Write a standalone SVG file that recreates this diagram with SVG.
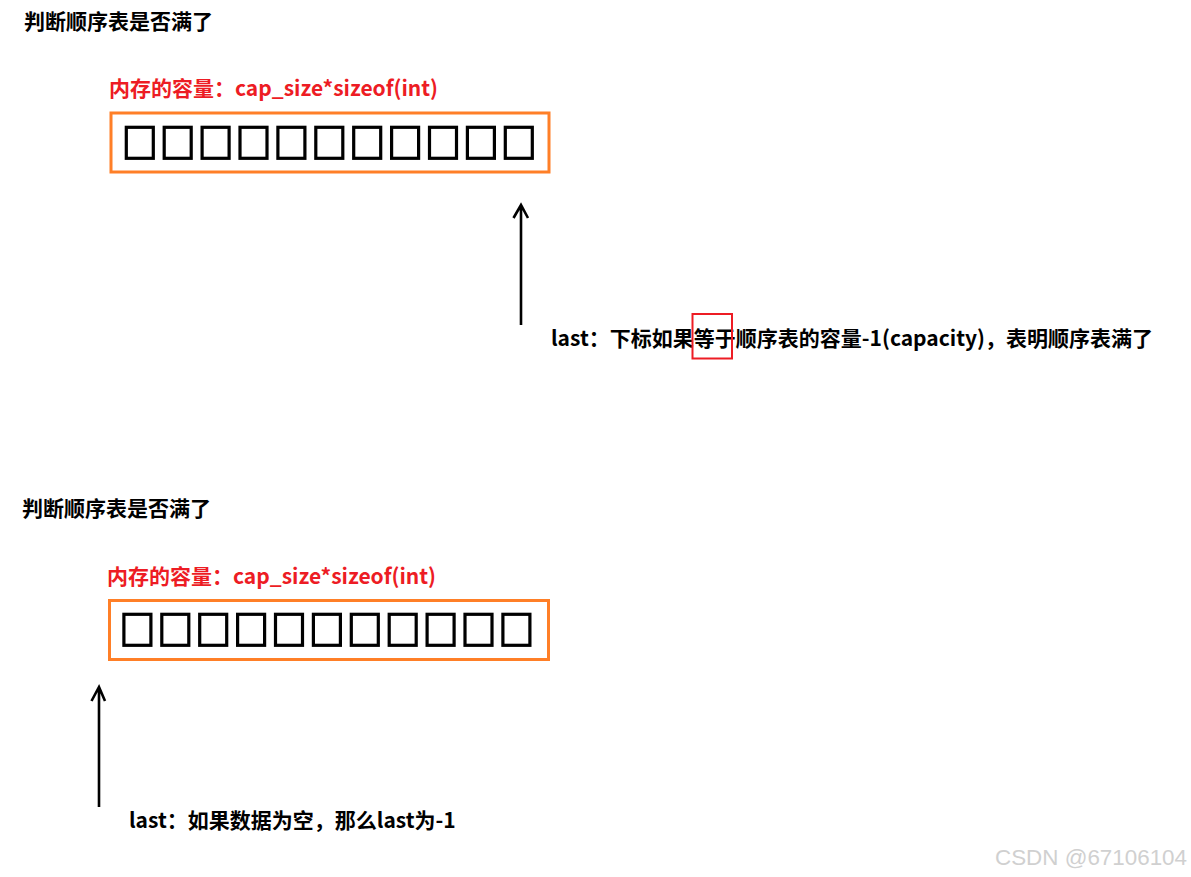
<svg xmlns="http://www.w3.org/2000/svg" width="1191" height="877" viewBox="0 0 1191 877">
<defs>
<style>
.t{font-family:"Noto Sans CJK SC","Microsoft YaHei",sans-serif;font-weight:bold;font-size:21px;fill:#000}
.r{fill:#ed1c24}
.frame{fill:none;stroke:#ff7f27;stroke-width:3}
.cell{fill:none;stroke:#000;stroke-width:3.2}
.arr{fill:none;stroke:#000;stroke-width:2.6;stroke-linecap:butt}
.wm{font-family:"Liberation Sans",Arial,sans-serif;font-size:22px;fill:#d0d0d0}
</style>
<g id="cells">
<rect class="cell" x="1.6" y="1.6" width="27" height="31"/>
<rect class="cell" x="39.5" y="1.6" width="27" height="31"/>
<rect class="cell" x="77.4" y="1.6" width="27" height="31"/>
<rect class="cell" x="115.3" y="1.6" width="27" height="31"/>
<rect class="cell" x="153.2" y="1.6" width="27" height="31"/>
<rect class="cell" x="191.1" y="1.6" width="27" height="31"/>
<rect class="cell" x="229" y="1.6" width="27" height="31"/>
<rect class="cell" x="266.9" y="1.6" width="27" height="31"/>
<rect class="cell" x="304.8" y="1.6" width="27" height="31"/>
<rect class="cell" x="342.7" y="1.6" width="27" height="31"/>
<rect class="cell" x="380.6" y="1.6" width="27" height="31"/>
</g>
</defs>
<rect width="1191" height="877" fill="#fff"/>

<g id="top-section">
<text class="t" x="24" y="29">判断顺序表是否满了</text>
<g id="top-array">
<text class="t r" x="109" y="96">内存的容量：cap_size*sizeof(int)</text>
<rect class="frame" x="111" y="113" width="438" height="59"/>
<use href="#cells" x="124.7" y="125.7"/>
</g>
<g id="top-label">
<text class="t" x="551" y="346">last：下标如果等于顺序表的容量-1(capacity)，表明顺序表满了</text>
<rect x="692.5" y="314" width="39.5" height="44.5" fill="none" stroke="#ed1c24" stroke-width="2"/>
</g>
</g>

<g id="bottom-section">
<text class="t" x="22" y="516">判断顺序表是否满了</text>
<g id="bottom-array">
<text class="t r" x="107" y="584">内存的容量：cap_size*sizeof(int)</text>
<rect class="frame" x="109.5" y="600.5" width="439" height="59"/>
<use href="#cells" x="122.3" y="612.7"/>
</g>
<g id="bottom-label">
<text class="t" x="129" y="828">last：如果数据为空，那么last为-1</text>
</g>
</g>

<g id="connectors">
<path class="arr" d="M521 325 V205 M513.5 218 L521 205 L528 218"/>
<path class="arr" d="M99 807 V687 M91.5 701 L99 687 L105 701"/>
</g>

<text class="wm" x="995" y="865" textLength="192" lengthAdjust="spacingAndGlyphs">CSDN @67106104</text>
</svg>
